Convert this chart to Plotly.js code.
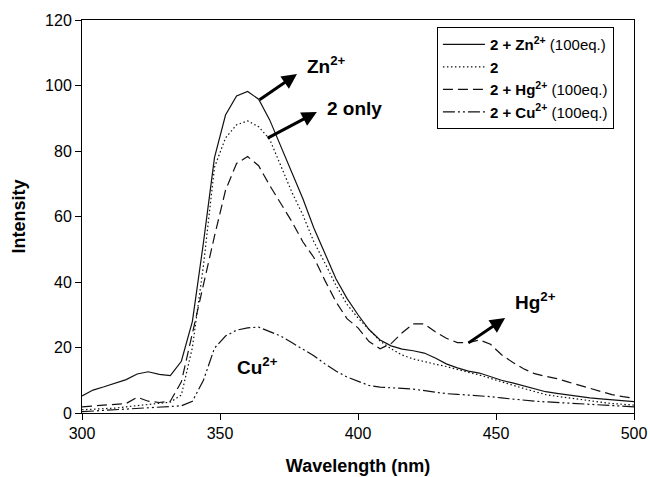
<!DOCTYPE html>
<html>
<head>
<meta charset="utf-8">
<script src="https://cdn.plot.ly/plotly-3.0.1.min.js"></script>
<style>html,body{margin:0;padding:0;background:#fff;}#chart{width:650px;height:477px;}</style>
</head>
<body>
<div id="chart"></div>
<script>
const wavelength = [300,304,308,312,316,320,324,328,332,336,340,344,348,352,356,360,364,368,372,376,380,384,388,392,396,400,404,408,412,416,420,424,428,432,436,440,444,448,452,456,460,464,468,472,476,480,484,488,492,496,500];

const znValues = [5.2,7.0,8.0,9.1,10.2,11.9,12.6,11.8,11.4,15.8,28.0,52.0,78.0,91.0,96.8,98.2,95.8,89.5,81.5,73.5,65.5,56.5,48.5,41.0,35.0,30.0,25.5,22.3,20.5,19.5,19.0,18.3,16.8,15.0,13.8,12.8,12.2,11.0,10.0,9.2,8.3,7.3,6.5,6.0,5.5,5.0,4.6,4.3,4.0,3.7,3.5];

const onlyValues = [1.0,1.1,1.3,1.5,1.9,2.2,2.5,2.9,3.3,5.5,20.0,45.0,75.0,84.0,88.0,89.2,87.4,83.6,75.5,67.5,60.5,52.3,45.8,39.0,33.2,29.0,25.5,22.0,19.6,17.7,16.5,15.6,14.9,14.2,13.2,12.4,11.6,10.5,9.5,8.5,7.5,6.6,5.6,5.1,4.6,4.2,3.7,3.3,2.9,2.6,2.4];

const hgValues = [1.9,2.1,2.3,2.6,2.9,4.8,3.6,3.2,3.6,9.5,24.5,40.0,54.0,68.0,76.2,78.3,75.5,69.5,64.0,58.5,52.3,47.5,40.5,34.0,28.8,26.0,21.8,19.6,21.2,24.5,27.2,27.2,24.8,22.8,21.5,21.5,22.3,21.0,17.8,15.5,13.5,12.0,11.2,10.5,9.5,8.5,7.5,6.5,5.6,5.0,4.5];

const cuValues = [0.4,0.6,0.8,1.0,1.1,1.3,1.4,1.6,1.9,2.2,3.6,10.0,19.8,23.5,25.3,26.0,26.2,24.8,23.5,21.5,19.6,17.5,15.0,12.8,11.0,9.8,8.4,7.9,7.6,7.5,7.3,6.8,6.2,5.9,5.7,5.5,5.3,5.0,4.6,4.2,3.9,3.6,3.4,3.2,3.0,2.9,2.6,2.4,2.2,2.0,1.9];

const seriesNames = [
  '<b>2 + Zn<sup>2+</sup></b> (100eq.)',
  '<b>2</b>',
  '<b>2 + Hg<sup>2+</sup></b> (100eq.)',
  '<b>2 + Cu<sup>2+</sup></b> (100eq.)'
];

const xTicks = [300,350,400,450,500];
const yTicks = [0,20,40,60,80,100,120];

const FONT = 'Liberation Sans, Arial, sans-serif';
const lineCol = '#111';

const traces = [
  {x: wavelength, y: znValues, name: seriesNames[0], mode: 'lines', line: {color: lineCol, width: 1.2, dash: 'solid'}},
  {x: wavelength, y: onlyValues, name: seriesNames[1], mode: 'lines', line: {color: lineCol, width: 1.2, dash: '1.5px,2.5px'}},
  {x: wavelength, y: hgValues, name: seriesNames[2], mode: 'lines', line: {color: lineCol, width: 1.2, dash: '10px,5px'}},
  {x: wavelength, y: cuValues, name: seriesNames[3], mode: 'lines', line: {color: lineCol, width: 1.2, dash: '12px,3px,2px,3px,2px,3px'}}
];

const layout = {
  width: 650, height: 477,
  margin: {l: 82, r: 16, t: 20, b: 64},
  paper_bgcolor: '#fff', plot_bgcolor: '#fff',
  font: {family: FONT, color: '#000', size: 16},
  showlegend: true,
  legend: {
    x: 0.643, y: 0.982, xanchor: 'left', yanchor: 'top',
    bordercolor: '#000', borderwidth: 1, bgcolor: '#fff',
    font: {family: FONT, size: 15, color: '#000'},
    itemwidth: 42,
    tracegroupgap: 0
  },
  xaxis: {
    range: [300, 500], tickvals: xTicks, ticktext: xTicks.map(String),
    ticks: 'outside', ticklen: 6, tickwidth: 1, tickcolor: '#000',
    showline: true, linecolor: '#000', linewidth: 1, mirror: true,
    showgrid: false, zeroline: false,
    tickfont: {family: FONT, size: 16},
    title: {text: '<b>Wavelength (nm)</b>', font: {family: FONT, size: 18}, standoff: 18}
  },
  yaxis: {
    range: [0, 120], tickvals: yTicks, ticktext: yTicks.map(String),
    ticks: 'outside', ticklen: 6, tickwidth: 1, tickcolor: '#000',
    showline: true, linecolor: '#000', linewidth: 1, mirror: true,
    showgrid: false, zeroline: false,
    tickfont: {family: FONT, size: 16},
    title: {text: '<b>Intensity</b>', font: {family: FONT, size: 18}, standoff: 14}
  },
  annotations: [
    {x: 377.9, y: 103.5, ax: 363.8, ay: 95.3, axref: 'x', ayref: 'y', xref: 'x', yref: 'y', text: '', showarrow: true, arrowhead: 2, arrowsize: 1, arrowwidth: 3, arrowcolor: '#000'},
    {x: 385.1, y: 91.9, ax: 366.7, ay: 83.7, axref: 'x', ayref: 'y', xref: 'x', yref: 'y', text: '', showarrow: true, arrowhead: 2, arrowsize: 1, arrowwidth: 3, arrowcolor: '#000'},
    {x: 453.3, y: 29.0, ax: 439.5, ay: 21.1, axref: 'x', ayref: 'y', xref: 'x', yref: 'y', text: '', showarrow: true, arrowhead: 2, arrowsize: 1, arrowwidth: 3, arrowcolor: '#000'},
    {x: 380.8, y: 106.3, xref: 'x', yref: 'y', xanchor: 'left', yanchor: 'middle', text: '<b>Zn<sup>2+</sup></b>', showarrow: false, font: {family: FONT, size: 19}},
    {x: 388.0, y: 93.1, xref: 'x', yref: 'y', xanchor: 'left', yanchor: 'middle', text: '<b>2 only</b>', showarrow: false, font: {family: FONT, size: 19}},
    {x: 456.2, y: 34.3, xref: 'x', yref: 'y', xanchor: 'left', yanchor: 'middle', text: '<b>Hg<sup>2+</sup></b>', showarrow: false, font: {family: FONT, size: 19}},
    {x: 355.4, y: 14.4, xref: 'x', yref: 'y', xanchor: 'left', yanchor: 'middle', text: '<b>Cu<sup>2+</sup></b>', showarrow: false, font: {family: FONT, size: 19}}
  ]
};

Plotly.newPlot('chart', traces, layout, {displayModeBar: false, staticPlot: true});
</script>
</body>
</html>
